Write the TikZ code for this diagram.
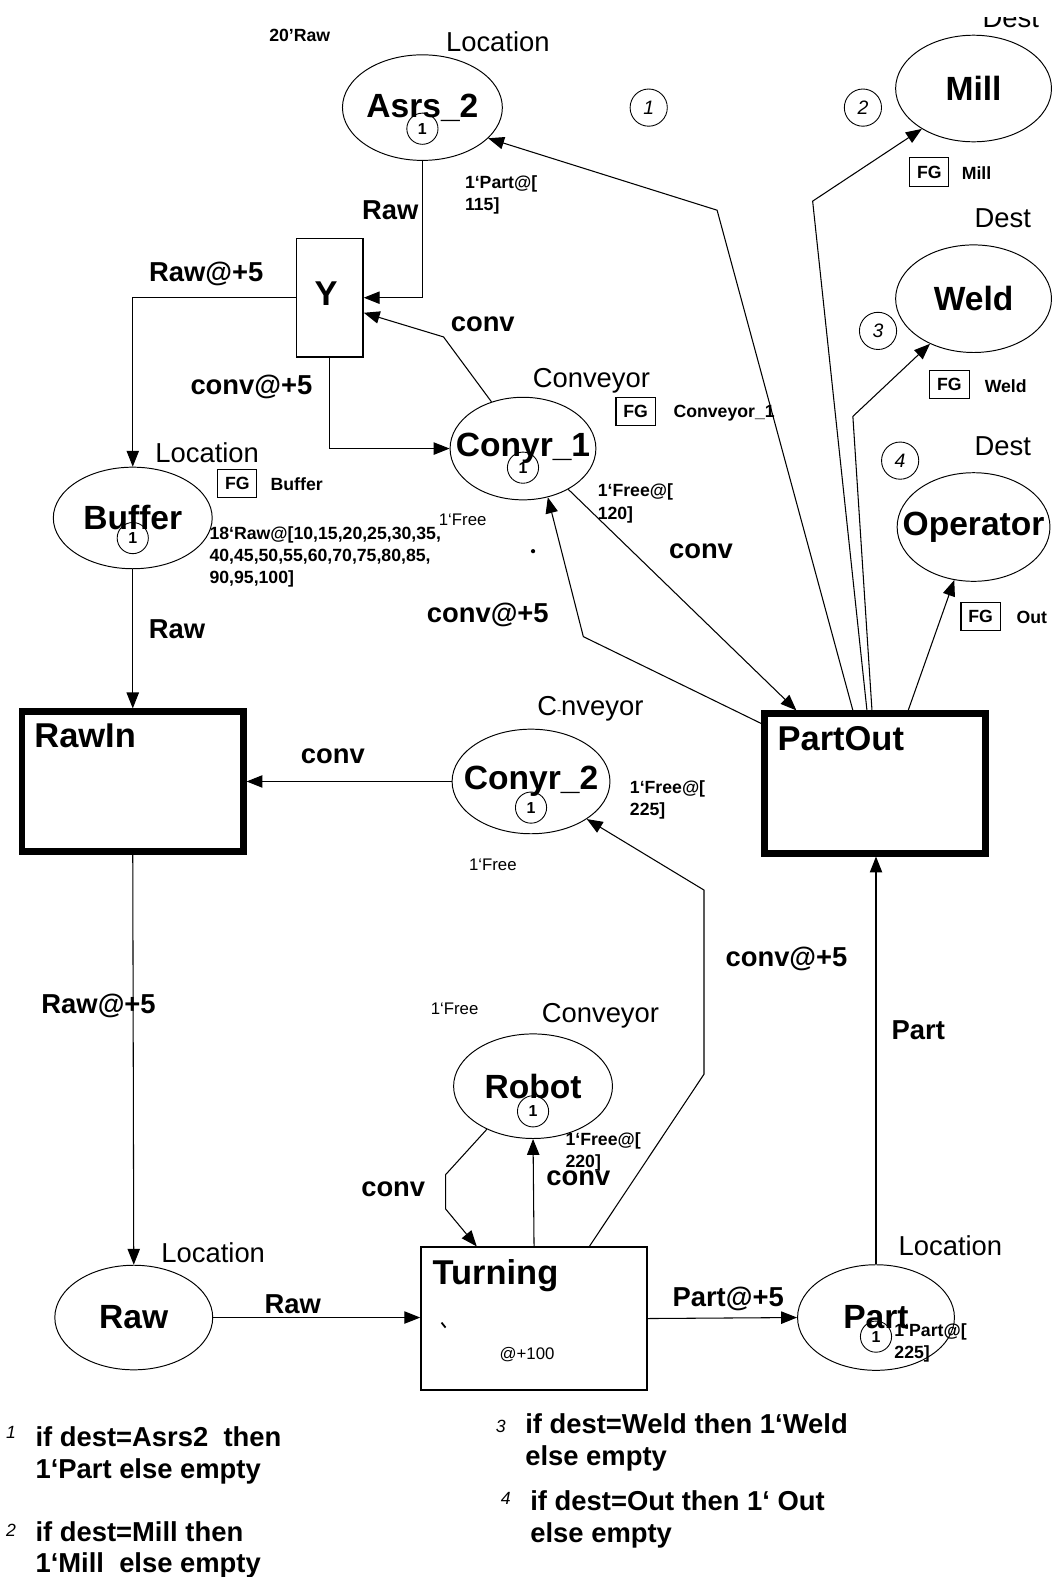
\documentclass[tikz,border=0pt]{standalone}
\usepackage{fontspec}
\setmainfont{Liberation Sans}
\usepackage{xcolor}
\usepackage{tikz}
\usetikzlibrary{arrows.meta,positioning,shapes.geometric}

\begin{document}
\begin{tikzpicture}[
  x=0.02cm, y=-0.02cm,
  place/.style={ellipse, draw, line width=0.55pt, minimum width=3.14cm, minimum height=2.08cm, inner sep=0pt, label={[pname]center:#1}},
  pname/.style={font=\bfseries\fontsize{19}{22}\selectfont},
  trans/.style={draw, line width=0.8pt, inner sep=0pt},
  heavy/.style={draw, line width=3.6pt, minimum width=4.4cm, minimum height=2.78cm, inner sep=0pt},
  tname/.style={font=\bfseries\fontsize{19.5}{22}\selectfont, inner sep=0pt},
  ctype/.style={font=\fontsize{15.5}{18}\selectfont, inner sep=0pt},
  lbl/.style={font=\bfseries\fontsize{15.5}{18}\selectfont, inner sep=0pt},
  marking/.style={font=\bfseries\fontsize{10}{12.5}\selectfont, align=left, inner sep=0pt, anchor=north west},
  free/.style={font=\fontsize{9.5}{11}\selectfont, inner sep=0pt},
  token/.style={circle, draw, line width=0.5pt, minimum size=0.62cm, inner sep=0pt, font=\bfseries\fontsize{9}{10}\selectfont},
  num/.style={circle, draw, line width=0.5pt, minimum size=0.74cm, inner sep=0pt, font=\itshape\fontsize{11}{12}\selectfont},
  fg/.style={draw, line width=0.6pt, minimum width=0.78cm, minimum height=0.56cm, inner sep=0pt, font=\bfseries\fontsize{10}{12}\selectfont},
  fgname/.style={font=\bfseries\fontsize{10}{12}\selectfont, inner sep=0pt},
  note/.style={font=\bfseries\fontsize{15.5}{18}\selectfont, align=left, anchor=west, inner sep=0pt},
  notenum/.style={font=\itshape\fontsize{10}{12}\selectfont, inner sep=0pt},
  flow/.style={-{Triangle[length=9pt, width=7pt]}, line width=0.6pt}
]
\useasboundingbox (0,0) rectangle (1045,1568);

\node[place=Asrs\_2, minimum width=3.18cm, minimum height=2.1cm] (asrs) at (420,107) {};
\node[token] (asrstok) at ([yshift=-0.42cm]asrs.center) {1};
\node[ctype] (asrstype) at (495,41) {Location};
\node[marking, anchor=center] (asrsinit) at (298,35) {20'Raw};
\node[marking] (asrsmark) at (462,174) {1`Part@[\\115]};
\node[num] (n1) at (645,107) {1};

\node[place=Mill, minimum width=3.1cm, minimum height=2.12cm] (mill) at (968,88) {};
\begin{scope}
  \clip (900,17) rectangle (1045,40);
  \node[ctype] (milltype) at (1005,18) {Dest};
\end{scope}
\node[num] (n2) at (858,107) {2};
\node[fg] (millfg) at (924,171) {FG};
\node[fgname] (millfgname) at (971,172) {Mill};

\node[place=Weld, minimum width=3.1cm, minimum height=2.14cm] (weld) at (968,297) {};
\node[ctype] (weldtype) at (997,217) {Dest};
\node[num] (n3) at (873,329) {3};
\node[fg] (weldfg) at (944,382) {FG};
\node[fgname] (weldfgname) at (1000,384) {Weld};

\node[place=Operator, minimum width=3.04cm, minimum height=2.16cm] (oper) at (968,524) {};
\node[ctype] (opertype) at (997,444) {Dest};
\node[num] (n4) at (895,458) {4};
\node[fg] (operfg) at (975,613) {FG};
\node[fgname] (operfgname) at (1026,614) {Out};

\node[trans, minimum width=1.32cm, minimum height=2.36cm, tname] (ytr) at (328,296) {\hspace*{-0.15cm}Y\vphantom{g}};

\node[place=Conyr\_1, minimum width=2.9cm, minimum height=2.04cm] (conv1) at (520,446) {};
\node[token] (conv1tok) at ([yshift=-0.38cm]conv1.center) {1};
\node[ctype] (conv1type) at (588,379) {Conveyor};
\node[fg] (conv1fg) at (632,409) {FG};
\node[fgname] (conv1fgname) at (720,411) {Conveyor\_1};
\node[marking] (conv1mark) at (594,481) {1`Free@[\\120]};
\node[free] (conv1init) at (460,517) {1`Free};
\fill (530,548) circle (1.2pt);

\node[place=Buffer, minimum width=3.16cm, minimum height=2.02cm] (buffer) at (132,515) {};
\node[token] (buffertok) at ([yshift=-0.4cm]buffer.center) {1};
\node[ctype] (buffertype) at (206,450) {Location};
\node[fg] (bufferfg) at (236,481) {FG};
\node[fgname] (bufferfgname) at (295,481) {Buffer};
\node[marking] (buffermark) at (208,523) {18`Raw@[10,15,20,25,30,35,\\40,45,50,55,60,70,75,80,85,\\90,95,100]};

\node[heavy] (rawin) at (132,777) {};
\node[tname, below right=0.3cm and 0.3cm of rawin.north west] (rawinname) {RawIn};
\node[heavy] (partout) at (870,779) {};
\node[tname, below right=0.32cm and 0.32cm of partout.north west] (partoutname) {PartOut};

\node[place=Conyr\_2] (conv2) at (528,777) {};
\node[token] (conv2tok) at ([yshift=-0.52cm]conv2.center) {1};
\node[ctype] (conv2type) at (587,705) {C{\scriptsize\raisebox{.2ex}{-}}nveyor};
\node[marking] (conv2mark) at (626,776) {1`Free@[\\225]};
\node[free] (conv2init) at (490,860) {1`Free};

\node[place=Robot, minimum width=3.16cm] (robot) at (530,1080) {};
\node[token] (robottok) at ([yshift=-0.5cm]robot.center) {1};
\node[ctype] (robottype) at (597,1010) {Conveyor};
\node[free] (robotinit) at (452,1003) {1`Free};
\node[marking] (robotmark) at (562,1126) {1`Free@[\\220]};

\node[place=Raw] (raw) at (133,1310) {};
\node[ctype] (rawtype) at (212,1246) {Location};

\node[trans, minimum width=4.5cm, minimum height=2.84cm] (turning) at (531,1311) {};
\node[tname, below right=0.26cm and 0.24cm of turning.north west] (turningname) {Turning};
\node[free] (turningdelay) at (524,1347) {@+100};
\draw[line width=1pt] (439,1315) -- (443,1320);

\node[place=Part, minimum width=3.12cm, minimum height=2.1cm] (part) at (871,1310) {};
\node[token] (parttok) at ([yshift=-0.38cm]part.center) {1};
\node[ctype] (parttype) at (945,1239) {Location};
\node[marking] (partmark) at (889,1316) {1`Part@[\\225]};

\draw[flow] (asrs.south) |- (ytr.east);
\draw[flow] (conv1.124) -- (441,335) -- ([yshift=-0.3cm]ytr.east);
\draw[flow] (ytr.west) -| (buffer.north);
\draw[flow] (ytr.south) |- (conv1.west);
\draw[flow] (buffer.south) -- (rawin.north);
\draw[flow] (conv2.west) -- (rawin.east);
\draw[flow] (rawin.south) -- (raw.north);
\draw[flow] (raw.east) -- (raw.east -| turning.west);
\draw[flow] (turning.east) -- (part.west);
\draw[flow] (part.north) -- (part.north |- partout.south);
\draw[flow] (robot.223) -- (443,1168) -- (443,1202) -- ([xshift=-1.14cm]turning.north);
\draw[flow] (turning.north) -- (robot.south);
\draw[flow] ([xshift=1.1cm]turning.north) -- (700,1068) -- (700,885) -- (conv2.-34);
\draw[flow] ([yshift=-0.26cm]partout.north west) -- (580,633) -- (conv1.-63);
\draw[flow] (conv1.-42) -- ([xshift=0.7cm]partout.north west);
\draw[flow] ([xshift=-0.44cm]partout.north) -- (713,209) -- (asrs.-25);
\draw[flow] ([xshift=-0.16cm]partout.north) -- (808,200) -- (mill.218);
\draw[flow] ([xshift=-0.06cm]partout.north) -- (848,414) -- (weld.226);
\draw[flow] ([xshift=0.66cm]partout.north) -- (oper.250);

\node[lbl] (l1) at (388,209) {Raw};
\node[lbl] (l2) at (480,322) {conv};
\node[lbl] (l3) at (205,272) {Raw@+5};
\node[lbl] (l4) at (250,385) {conv@+5};
\node[lbl] (l5) at (176,626) {Raw};
\node[lbl] (l6) at (331,752) {conv};
\node[lbl] (l7) at (98,1000) {Raw@+5};
\node[lbl] (l8) at (291,1297) {Raw};
\node[lbl] (l9) at (724,1292) {Part@+5};
\node[lbl] (l10) at (913,1024) {Part};
\node[lbl] (l11) at (391,1182) {conv};
\node[lbl] (l12) at (575,1172) {conv};
\node[lbl] (l13) at (782,953) {conv@+5};
\node[lbl] (l14) at (485,611) {conv@+5};
\node[lbl] (l15) at (697,548) {conv};

\node[notenum] (fn1) at (11,1424) {1};
\node[note] (note1) at (35,1447) {if dest=Asrs2~ then\\1`Part else empty};
\node[notenum] (fn2) at (11,1522) {2};
\node[note] (note2) at (35,1541) {if dest=Mill then\\1`Mill~ else empty};
\node[notenum] (fn3) at (498,1418) {3};
\node[note] (note3) at (522,1434) {if dest=Weld then 1`Weld\\else empty};
\node[notenum] (fn4) at (503,1490) {4};
\node[note] (note4) at (527,1511) {if dest=Out then 1` Out\\else empty};
\end{tikzpicture}
\end{document}
